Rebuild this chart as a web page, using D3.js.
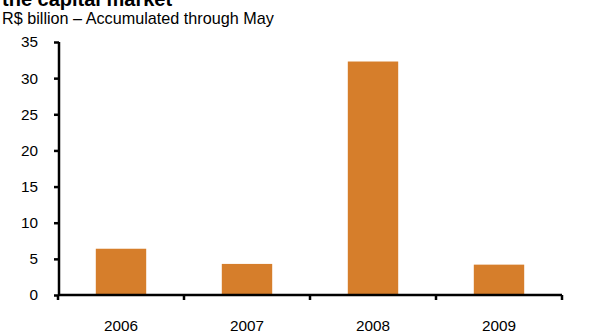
<!DOCTYPE html>
<html>
<head>
<meta charset="utf-8">
<script src="https://cdn.jsdelivr.net/npm/d3@7"></script>
<style>
  body { margin: 0; background: #fff; }
  svg { display: block; font-family: "Liberation Sans", Arial, sans-serif; }
</style>
</head>
<body>
<svg id="chart" width="589" height="333"></svg>
<script>
// Values
var years = ["2006", "2007", "2008", "2009"];
var values = [6.4, 4.3, 32.3, 4.2];
var yTicks = [0, 5, 10, 15, 20, 25, 30, 35];

var svg = d3.select("#chart");

// Title, partly cut off at the top in the original
svg.append("text")
    .attr("x", 2)
    .attr("y", 6)
    .attr("font-size", 20)
    .attr("font-weight", "bold")
    .text("the capital market");

svg.append("text")
    .attr("x", 2)
    .attr("y", 24)
    .attr("font-size", 16.2)
    .text("R$ billion \u2013 Accumulated through May");

var x = d3.scaleBand()
    .domain(years)
    .range([58, 562])
    .paddingInner(0.6)
    .paddingOuter(0.3);

var y = d3.scaleLinear()
    .domain([0, 35])
    .range([295, 42]);

// Bars
svg.append("g").selectAll("rect")
    .data(values)
    .enter().append("rect")
    .attr("x", function(d, i) { return x(years[i]); })
    .attr("y", function(d) { return y(d); })
    .attr("width", x.bandwidth())
    .attr("height", function(d) { return y(0) - y(d); })
    .attr("fill", "#d67e2b");

// Y axis
var yAxis = svg.append("g")
    .attr("transform", "translate(59,0)")
    .call(d3.axisLeft(y).tickValues(yTicks).tickSize(5).tickPadding(16));
yAxis.select(".domain").attr("stroke", "#000").attr("stroke-width", 2.5)
    .attr("d", "M0," + y(35) + "V" + y(0));
yAxis.selectAll(".tick line").attr("stroke", "#000").attr("stroke-width", 2.5);
yAxis.selectAll(".tick text").attr("font-size", 15.3).attr("fill", "#000")
    .attr("font-family", "Liberation Sans, Arial, sans-serif");

// X axis: ticks sit on the category boundaries
var bounds = years.map(function(d) { return x(d) - x.step() * x.paddingInner() / 2; });
bounds.push(562);
var xAxis = svg.append("g").attr("transform", "translate(0,295)");
xAxis.append("line")
    .attr("x1", 58).attr("x2", 562)
    .attr("stroke", "#000").attr("stroke-width", 2.5);
xAxis.selectAll("line.tk")
    .data(bounds)
    .enter().append("line")
    .attr("class", "tk")
    .attr("x1", function(d) { return d; })
    .attr("x2", function(d) { return d; })
    .attr("y1", 0).attr("y2", 5)
    .attr("stroke", "#000").attr("stroke-width", 2.5);
xAxis.selectAll("text")
    .data(years)
    .enter().append("text")
    .attr("x", function(d) { return x(d) + x.bandwidth() / 2; })
    .attr("y", 36)
    .attr("text-anchor", "middle")
    .attr("font-size", 15.3)
    .text(function(d) { return d; });
</script>
</body>
</html>
